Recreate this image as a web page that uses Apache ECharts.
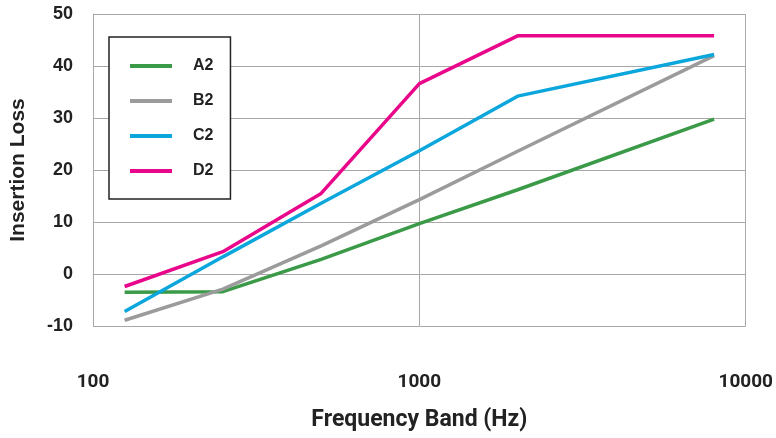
<!DOCTYPE html>
<html>
<head>
<meta charset="utf-8">
<script src="https://cdn.jsdelivr.net/npm/echarts@6/dist/echarts.min.js"></script>
<style>
html,body{margin:0;padding:0;background:#fff;}
#chart{width:776px;height:438px;}
</style>
</head>
<body>
<div id="chart"></div>
<script>
var freqs = [125, 250, 500, 1000, 2000, 8000];
var seriesNames = ['A2', 'B2', 'C2', 'D2'];
var a2 = [-3.5, -3.4, 2.8, 9.7, 16.2, 29.8];
var b2 = [-8.9, -2.9, 5.4, 14.3, 23.6, 42.0];
var c2 = [-7.2, 3.3, 13.6, 23.7, 34.2, 42.2];
var d2 = [-2.4, 4.3, 15.5, 36.6, 45.8, 45.8];
var xTicks = [100, 1000, 10000];
var yTicks = [-10, 0, 10, 20, 30, 40, 50];
var colors = ['#3a9a47', '#9b9b9b', '#0aa6dc', '#e8078b'];

function pairs(vals) { return freqs.map(function (f, i) { return [f, vals[i]]; }); }
var allVals = [a2, b2, c2, d2];

var chart = echarts.init(document.getElementById('chart'), null, {renderer: 'canvas'});
var gridColor = '#a8a8a8';
chart.setOption({
  animation: false,
  backgroundColor: '#fff',
  grid: {left: 90, right: 28, top: 14, bottom: 112, containLabel: false},
  legend: {
    orient: 'vertical',
    left: 109,
    top: 37,
    padding: [19, 17, 18, 21],
    itemGap: 15,
    itemWidth: 42,
    itemHeight: 4,
    icon: 'rect',
    borderColor: '#222',
    borderWidth: 1.5,
    backgroundColor: '#fff',
    textStyle: {fontFamily: 'Liberation Sans', fontWeight: 'bold', fontSize: 16, color: '#222', lineHeight: 20, padding: [0, 0, 0, 16]},
    data: seriesNames
  },
  xAxis: {
    type: 'log',
    logBase: 10,
    min: xTicks[0],
    max: xTicks[xTicks.length - 1],
    name: 'Frequency Band (Hz)',
    nameLocation: 'middle',
    nameGap: 83,
    nameTextStyle: {fontFamily: 'Roboto', fontWeight: 'bold', fontSize: 23, color: '#222'},
    axisLine: {show: true, lineStyle: {color: gridColor, width: 1}},
    axisTick: {show: false},
    axisLabel: {
      margin: 47,
      fontFamily: 'Roboto', fontWeight: 'bold', fontSize: 19, color: '#222',
      formatter: function (v) { return String(Math.round(v)); }
    },
    splitLine: {show: true, lineStyle: {color: gridColor, width: 1}},
    minorTick: {show: false},
    minorSplitLine: {show: false}
  },
  yAxis: {
    type: 'value',
    min: yTicks[0],
    max: yTicks[yTicks.length - 1],
    interval: 10,
    name: 'Insertion Loss',
    nameLocation: 'middle',
    nameGap: 64,
    nameTextStyle: {fontFamily: 'Liberation Sans', fontWeight: 'bold', fontSize: 21, color: '#222'},
    axisLine: {show: true, lineStyle: {color: gridColor, width: 1}},
    axisTick: {show: false},
    axisLabel: {margin: 20, fontFamily: 'Liberation Sans', fontWeight: 'bold', fontSize: 18, color: '#222'},
    splitLine: {show: true, lineStyle: {color: gridColor, width: 1}}
  },
  series: seriesNames.map(function (n, i) {
    return {
      name: n,
      type: 'line',
      data: pairs(allVals[i]),
      showSymbol: false,
      symbol: 'none',
      color: colors[i],
      lineStyle: {color: colors[i], width: 3.5},
      z: 2 + i
    };
  })
});
</script>
</body>
</html>
